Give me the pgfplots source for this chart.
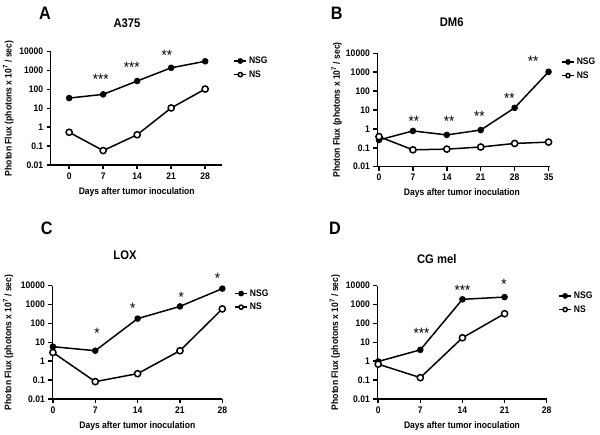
\documentclass[border=0pt]{standalone}
\usepackage{pgfplots}
\pgfplotsset{compat=1.18}
\usepackage{fontspec}
\setmainfont[FakeStretch=0.9]{Liberation Sans}

\newcommand{\lab}{\fontsize{9.5}{10}\selectfont\bfseries}
\newcommand{\stars}{\fontsize{15}{15}\selectfont}

\pgfplotsset{
  legend image code/.code={\draw[mark repeat=2,mark phase=2,#1,mark size=2.1pt]
    plot coordinates {(0pt,0pt)(6pt,0pt)(12pt,0pt)};},
  every axis/.append style={
    scale only axis, clip=false,
    ymin=0.01, ymax=10000,
    ytick={0.01,0.1,1,10,100,1000,10000},
    yticklabels={0.01,0.1,1,10,100,1000,10000},
    yminorticks=false,
    axis x line*=bottom, axis y line*=left,
    axis line style={-, line width=1.5pt},
    tick align=outside, major tick length=4pt,
    tick style={line width=1.5pt, black},
    tick label style={font=\lab},
    xlabel={Days after tumor inoculation},
    ylabel={Photon Flux (photons x 10\textsuperscript{7} / sec)},
    label style={font=\lab},
    title style={font=\fontsize{12.5}{13}\selectfont\bfseries},
    legend style={draw=none, fill=none, font=\lab, anchor=north west,
      inner sep=0pt, row sep=1.5pt},
    legend cell align=left,
    cycle list={
      {black, line width=1.5pt, mark=*, mark size=2.5pt, mark options={fill=black, solid}},
      {black, line width=1.5pt, mark=*, mark size=3.1pt, mark options={fill=white, solid}}},
  },
}
\tikzset{sig/.style={font=\stars, inner sep=0pt, yshift=-3.2pt}}

\begin{document}
\begin{tikzpicture}
\useasboundingbox (0pt,0pt) rectangle (600pt,435pt);

% A
\begin{semilogyaxis}[at={(50.7pt,270pt)}, anchor=south west,
  width=171pt, height=113.3pt,
  xmin=-3.8, xmax=31.4,
  xtick={0,7,14,21,28}, xticklabels={0,7,14,21,28},
  title={A375}, title style={at={(axis description cs:0.446,1.2)}, anchor=center},
  xlabel style={at={(axis description cs:0.503,-0.236)}, anchor=center},
  ylabel style={at={(axis description cs:-0.248,0.5)}, anchor=center},
  legend style={at={(axis description cs:1.068,0.973)}},
]
\addplot coordinates {(0,35) (7,55) (14,280) (21,1400) (28,3100)};
\addplot coordinates {(0,0.54) (7,0.058) (14,0.4) (21,10.5) (28,105)};
\legend{NSG,NS}
\node[sig] at (axis cs:6.5,515) {***};
\node[sig] at (axis cs:12.9,2230) {***};
\node[sig] at (axis cs:20.1,9300) {**};
\end{semilogyaxis}

% B
\begin{semilogyaxis}[at={(377.3pt,268.3pt)}, anchor=south west,
  width=172.7pt, height=113.4pt,
  xmin=-0.35, xmax=35.3,
  xtick={0,7,14,21,28,35}, xticklabels={0,7,14,21,28,35},
  title={DM6}, title style={at={(axis description cs:0.431,1.22)}, anchor=center},
  xlabel style={at={(axis description cs:0.49,-0.235)}, anchor=center},
  ylabel style={at={(axis description cs:-0.235,0.5)}, anchor=center},
  legend style={at={(axis description cs:1.064,0.979)}},
]
\addplot coordinates {(0,0.26) (7,0.78) (14,0.48) (21,0.87) (28,13) (35,1050)};
\addplot coordinates {(0,0.39) (7,0.078) (14,0.085) (21,0.11) (28,0.17) (35,0.2)};
\legend{NSG,NS}
\node[sig] at (axis cs:7.2,3.6) {**};
\node[sig] at (axis cs:14.5,3.6) {**};
\node[sig] at (axis cs:20.7,6.7) {**};
\node[sig] at (axis cs:26.9,63) {**};
\node[sig] at (axis cs:31.8,5400) {**};
\end{semilogyaxis}

% C
\begin{semilogyaxis}[at={(52.3pt,36pt)}, anchor=south west,
  width=170pt, height=113.3pt,
  xmin=-0.1, xmax=28,
  xtick={0,7,14,21,28}, xticklabels={0,7,14,21,28},
  title={LOX}, title style={at={(axis description cs:0.428,1.218)}, anchor=center},
  xlabel style={at={(axis description cs:0.5,-0.236)}, anchor=center},
  ylabel style={at={(axis description cs:-0.259,0.5)}, anchor=center},
  legend style={at={(axis description cs:1.07,0.986)}},
]
\addplot coordinates {(0,5.9) (7,3.6) (14,180) (21,800) (28,7000)};
\addplot coordinates {(0,2.9) (7,0.083) (14,0.22) (21,3.6) (28,590)};
\legend{NSG,NS}
\node[sig] at (axis cs:7.3,45) {*};
\node[sig] at (axis cs:13.2,950) {*};
\node[sig] at (axis cs:21.2,3600) {*};
\node[sig] at (axis cs:27.2,37000) {*};
\end{semilogyaxis}

% D
\begin{semilogyaxis}[at={(377.3pt,36pt)}, anchor=south west,
  width=169.4pt, height=113.3pt,
  xmin=-0.15, xmax=28,
  xtick={0,7,14,21,28}, xticklabels={0,7,14,21,28},
  title={CG mel}, title style={at={(axis description cs:0.351,1.183)}, anchor=center},
  xlabel style={at={(axis description cs:0.5,-0.236)}, anchor=center},
  ylabel style={at={(axis description cs:-0.25,0.5)}, anchor=center},
  legend style={at={(axis description cs:1.068,0.965)}},
]
\addplot coordinates {(0,0.97) (7,4) (14,1900) (21,2500)};
\addplot coordinates {(0,0.7) (7,0.135) (14,17.5) (21,330)};
\legend{NSG,NS}
\node[sig] at (axis cs:7.2,45) {***};
\node[sig] at (axis cs:14.0,8900) {***};
\node[sig] at (axis cs:20.9,17800) {*};
\end{semilogyaxis}

\node[font=\fontsize{18}{18}\selectfont\bfseries] at (45pt,422pt) {A};
\node[font=\fontsize{18}{18}\selectfont\bfseries] at (336.7pt,421.7pt) {B};
\node[font=\fontsize{18}{18}\selectfont\bfseries] at (46.7pt,206.7pt) {C};
\node[font=\fontsize{18}{18}\selectfont\bfseries] at (335pt,206.7pt) {D};
\end{tikzpicture}
\end{document}
